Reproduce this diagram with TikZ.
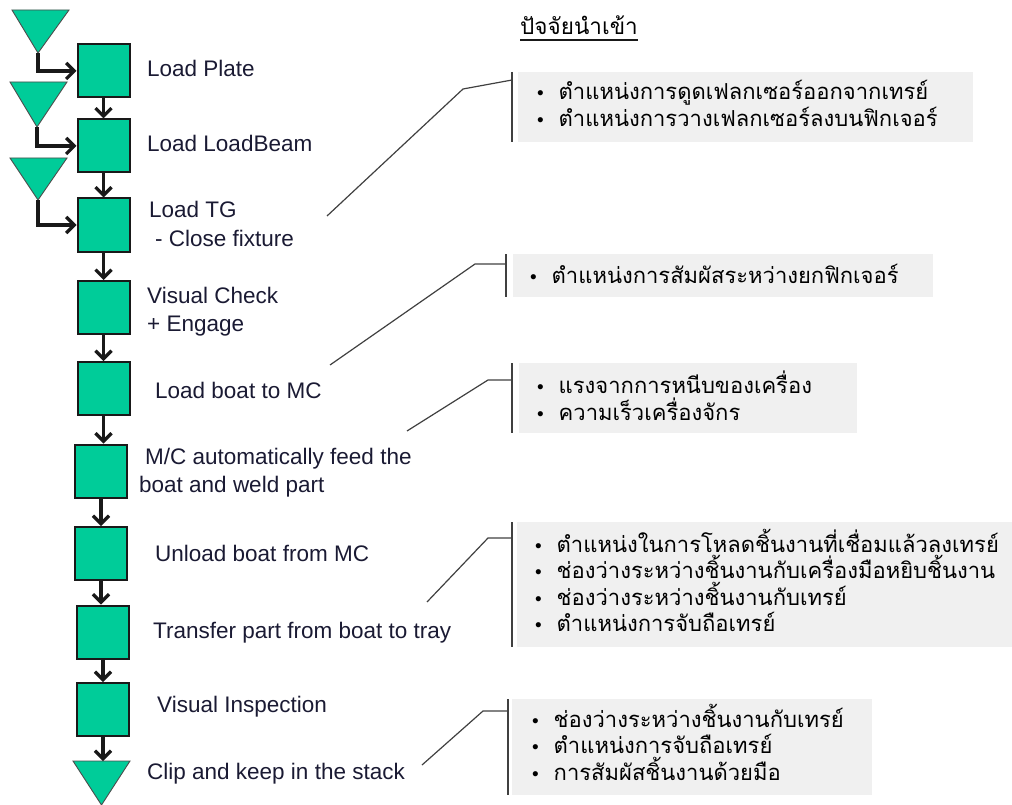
\documentclass[tikz,border=0pt]{standalone}
\usepackage{fontspec}
\setmainfont{Liberation Sans}
\newfontfamily\thaifont[Script=Thai]{Loma}
\usetikzlibrary{arrows.meta}
\definecolor{boxgreen}{HTML}{00CC99}
\definecolor{panelgray}{HTML}{F0F0F0}
\definecolor{txt}{HTML}{1A1A33}
\definecolor{leadcol}{HTML}{404040}
\newcommand\bulmark{\makebox[21.5pt][l]{\normalfont\fontsize{19}{22}\selectfont •}}
\begin{document}
\begin{tikzpicture}[x=1pt,y=-1pt,
  stepbox/.style={draw=black!90, line width=2pt, fill=boxgreen, minimum width=52pt, minimum height=53pt, inner sep=0pt},
  tri/.style={draw=black!70, line width=0.9pt, fill=boxgreen, line join=miter},
  flow/.style={line width=3.2pt, draw=black!90, -{Straight Barb[length=8pt,width=16pt]}},
  lbl/.style={anchor=base west, font=\fontsize{22.5}{26}\selectfont, text=txt, inner sep=0pt},
  panel/.style={fill=panelgray, draw=none, anchor=north west, inner sep=0pt},
  bar/.style={line width=1.8pt, draw=black!75},
  lead/.style={line width=1.2pt, draw=leadcol},
  th/.style={anchor=base west, font=\thaifont\fontsize{22}{26}\selectfont, inner sep=0pt, text=black},
]
\useasboundingbox (0,0) rectangle (1012,805);

% ---------- process boxes ----------
\node[stepbox] (b1) at (103.5,71) {};
\node[stepbox] (b2) at (103.5,146) {};
\node[stepbox] (b3) at (103.5,225) {};
\node[stepbox] (b4) at (103.5,307.5) {};
\node[stepbox] (b5) at (103.5,388.5) {};
\node[stepbox] (b6) at (101,471) {};
\node[stepbox] (b7) at (101,553.5) {};
\node[stepbox] (b8) at (103,632) {};
\node[stepbox] (b9) at (103,709.5) {};

% ---------- storage triangles ----------
\coordinate (t1a) at (38,53);
\coordinate (t2a) at (37,127);
\coordinate (t3a) at (38,200);
\coordinate (t4top) at (101.5,761);
\draw[tri] (12,10) -- (69,10) -- (t1a) -- cycle;
\draw[tri] (10,82) -- (67,82) -- (t2a) -- cycle;
\draw[tri] (10,158) -- (67,158) -- (t3a) -- cycle;
\draw[tri] (73,761) -- (130,761) -- (101.5,805) -- cycle;

% ---------- flow arrows ----------
\draw[flow] (t1a) |- (b1.west);
\draw[flow] (t2a) |- (b2.west);
\draw[flow] (t3a) |- (b3.west);
\draw[flow] (b1.south) -- (b1.south |- b2.north);
\draw[flow] (b2.south) -- (b2.south |- b3.north);
\draw[flow] (b3.south) -- (b3.south |- b4.north);
\draw[flow] (b4.south) -- (b4.south |- b5.north);
\draw[flow] (b5.south) -- (b5.south |- b6.north);
\draw[flow] (b6.south) -- (b6.south |- b7.north);
\draw[flow] (b7.south) -- (b7.south |- b8.north);
\draw[flow] (b8.south) -- (b8.south |- b9.north);
\draw[flow] (b9.south) -- (b9.south |- t4top);

% ---------- step labels ----------
\node[lbl] (l1) at (147,77) {Load Plate};
\node[lbl] (l2) at (147,152) {Load LoadBeam};
\node[lbl] (l3a) at (149,218) {Load TG};
\node[lbl] (l3b) at (155,247) {- Close fixture};
\node[lbl] (l4a) at (147,303) {Visual Check};
\node[lbl] (l4b) at (147,331) {+ Engage};
\node[lbl] (l5) at (155,398) {Load boat to MC};
\node[lbl] (l6a) at (145,464) {M/C automatically feed the};
\node[lbl] (l6b) at (139,492) {boat and weld part};
\node[lbl] (l7) at (155,561) {Unload boat from MC};
\node[lbl] (l8) at (153,638) {Transfer part from boat to tray};
\node[lbl] (l9) at (157,712) {Visual Inspection};
\node[lbl] (l10) at (147,779) {Clip and keep in the stack};

% ---------- title ----------
\node[anchor=base west, inner sep=0pt, font=\thaifont\fontsize{22.5}{26}\selectfont, text=black] (title) at (520,35) {ปัจจัยนำเข้า};
\draw[line width=1.2pt, black!90] ([yshift=-5pt]title.base west) -- ([yshift=-5pt]title.base east);

% ---------- factor panels ----------
\node[panel, minimum width=455pt, minimum height=70pt] (pA) at (518,72) {};
\node[panel, minimum width=420pt, minimum height=43pt] (pB) at (513,254) {};
\node[panel, minimum width=338pt, minimum height=70pt] (pC) at (519,363) {};
\node[panel, minimum width=495pt, minimum height=125pt] (pD) at (517,522) {};
\node[panel, minimum width=360pt, minimum height=96pt] (pE) at (512,699) {};

\draw[bar] ([xshift=-6pt]pA.north west) -- ([xshift=-6pt]pA.south west);
\draw[bar] ([xshift=-7pt]pB.north west) -- ([xshift=-7pt]pB.south west);
\draw[bar] ([xshift=-7pt]pC.north west) -- ([xshift=-7pt]pC.south west);
\draw[bar] ([xshift=-5pt]pD.north west) -- ([xshift=-5pt]pD.south west);
\draw[bar] ([xshift=-4pt]pE.north west) -- ([xshift=-4pt]pE.south west);

% ---------- leader lines ----------
\coordinate (eA) at (327,216); \coordinate (kA) at (463,89); \coordinate (jA) at (512,80);
\coordinate (eB) at (330,365); \coordinate (kB) at (475,264); \coordinate (jB) at (506,264);
\coordinate (eC) at (407,431); \coordinate (kC) at (488,380); \coordinate (jC) at (512,380);
\coordinate (eD) at (427,602); \coordinate (kD) at (488,538); \coordinate (jD) at (512,538);
\coordinate (eE) at (422,765); \coordinate (kE) at (483,711); \coordinate (jE) at (508,711);
\draw[lead] (eA) -- (kA) -- (jA);
\draw[lead] (eB) -- (kB) -- (jB);
\draw[lead] (eC) -- (kC) -- (jC);
\draw[lead] (eD) -- (kD) -- (jD);
\draw[lead] (eE) -- (kE) -- (jE);

% ---------- factor texts ----------
\node[th] (a1) at (537,100) {\bulmark ตำแหน่งการดูดเฟลกเซอร์ออกจากเทรย์};
\node[th] (a2) at (537,127) {\bulmark ตำแหน่งการวางเฟลกเซอร์ลงบนฟิกเจอร์};
\node[th] (bb1) at (530,283) {\bulmark ตำแหน่งการสัมผัสระหว่างยกฟิกเจอร์};
\node[th] (c1) at (537,393) {\bulmark แรงจากการหนีบของเครื่อง};
\node[th] (c2) at (537,420) {\bulmark ความเร็วเครื่องจักร};
\node[th] (d1) at (535,552) {\bulmark ตำแหน่งในการโหลดชิ้นงานที่เชื่อมแล้วลงเทรย์};
\node[th] (d2) at (535,578) {\bulmark ช่องว่างระหว่างชิ้นงานกับเครื่องมือหยิบชิ้นงาน};
\node[th] (d3) at (535,605) {\bulmark ช่องว่างระหว่างชิ้นงานกับเทรย์};
\node[th] (d4) at (535,631) {\bulmark ตำแหน่งการจับถือเทรย์};
\node[th] (e1) at (532,727) {\bulmark ช่องว่างระหว่างชิ้นงานกับเทรย์};
\node[th] (e2) at (532,753) {\bulmark ตำแหน่งการจับถือเทรย์};
\node[th] (e3) at (532,780) {\bulmark การสัมผัสชิ้นงานด้วยมือ};
\end{tikzpicture}
\end{document}
